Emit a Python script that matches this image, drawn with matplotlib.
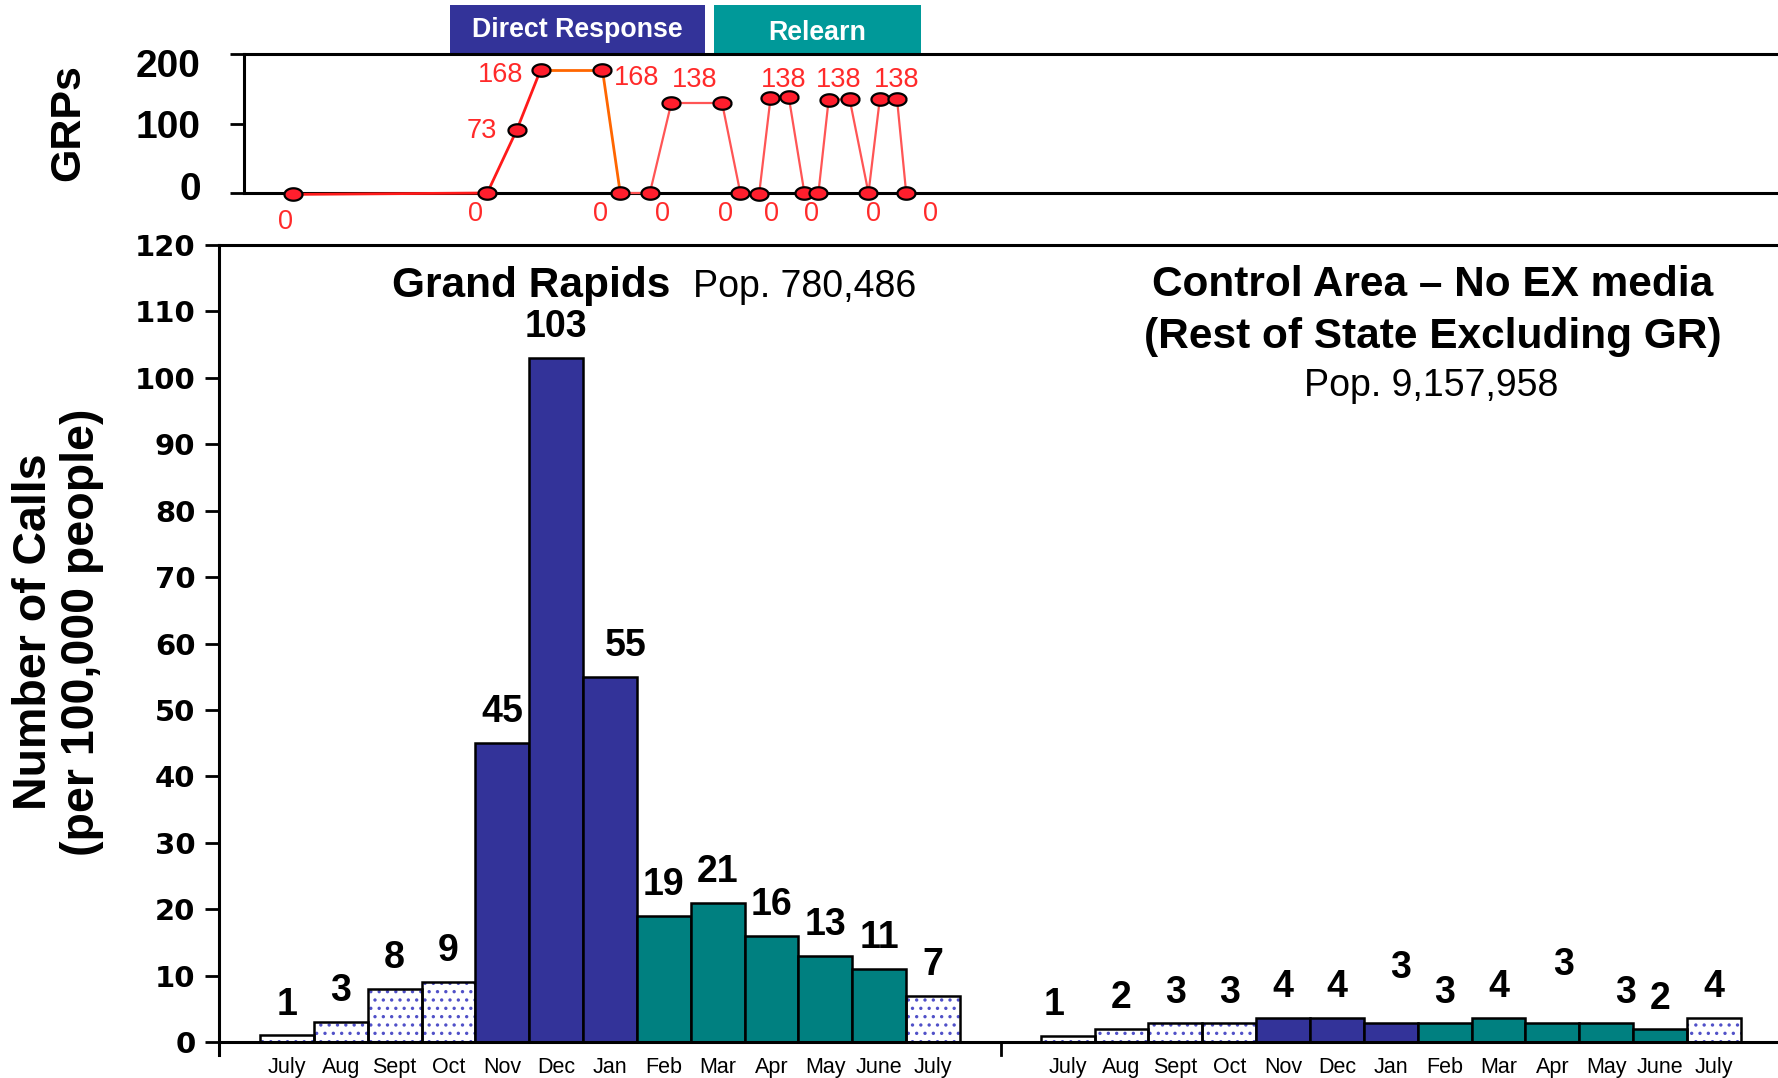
import matplotlib
matplotlib.use('Agg')
import matplotlib.pyplot as plt
import numpy as np
from matplotlib.path import Path
from matplotlib.patches import Rectangle
import matplotlib.transforms as mtransforms

# ---------------- data ----------------
months = ['July', 'Aug', 'Sept', 'Oct', 'Nov', 'Dec', 'Jan', 'Feb', 'Mar', 'Apr', 'May', 'June', 'July']
phase = ['pre', 'pre', 'pre', 'pre', 'dr', 'dr', 'dr', 'rl', 'rl', 'rl', 'rl', 'rl', 'post']
gr_calls = [1, 3, 8, 9, 45, 103, 55, 19, 21, 16, 13, 11, 7]
ctrl_calls = [0.9, 2.0, 2.8, 2.8, 3.6, 3.6, 2.8, 2.8, 3.6, 2.8, 2.8, 1.9, 3.6]

# GRP flight (x in month units of the chart below)
grp_x = [0.12, 3.72, 4.27, 4.71, 5.86, 6.19, 6.74, 7.14, 8.08, 8.42, 8.77,
         8.98, 9.32, 9.61, 9.87, 10.06, 10.45, 10.80, 11.01, 11.33, 11.50]
grp_y = [-2, 0, 91, 177, 177, 0, 0, 130, 130, 0, -1,
         136, 138, 0, 0, 134, 135, 0, 135, 135, 0]
grp_label_text = ['0', '0', '73', '168', '168', '0', '0', '138', '0', '0',
                  '138', '0', '138', '0', '138', '0']
grp_label_x = [-0.02, 3.51, 3.62, 3.96, 6.50, 5.83, 6.97, 7.58, 8.15, 9.00,
               9.22, 9.74, 10.25, 10.89, 11.33, 11.96]
grp_label_y = [-42, -30, 89, 170, 166, -30, -30, 163, -30, -30,
               162, -30, 162, -30, 162, -30]

# ---------------- layout / style ----------------
W, H = 1778, 1078
fig = plt.figure(figsize=(W / 100, H / 100), dpi=100)
SANS = ['Liberation Sans', 'DejaVu Sans']
NARROW = ['Liberation Sans Narrow', 'Liberation Sans', 'DejaVu Sans']
plt.rcParams['font.family'] = SANS
plt.rcParams['hatch.linewidth'] = 1.2

NAVY = '#333399'
TEAL = '#008080'
DOT = '#5050c8'
fill_colors = {'pre': None, 'dr': NAVY, 'rl': TEAL, 'post': None}
GROUP_OFFSETS = [0, 14.5]

# ---------------- main bar axes ----------------
ax = fig.add_axes([219 / W, 1 - 1055.3 / H, 1 - 219 / W, (1055.3 - 245) / H])
ax.set_xlim(-1.261, 27.69)
ax.set_ylim(-2, 120)
for s in ['right', 'bottom']:
    ax.spines[s].set_visible(False)
for s in ['left', 'top']:
    ax.spines[s].set_linewidth(2.2)
ax.axhline(0, color='black', lw=2.2, zorder=5)
ax.set_yticks(range(0, 121, 10))
ax.tick_params(axis='y', length=10, width=2, pad=7, labelsize=21)
for lab in ax.get_yticklabels():
    lab.set_fontfamily(['DejaVu Sans'])
    lab.set_fontweight('heavy')

# per-label nudges (points) for the value labels
left_nudge = {6: (11, 0)}
right_nudge = {0: (-10, 0), 6: (7, 18), 9: (8, 20), 10: (14, 0)}

xt, xl = [], []
for offset, vals, nudge in [(GROUP_OFFSETS[0], gr_calls, left_nudge),
                            (GROUP_OFFSETS[1], ctrl_calls, right_nudge)]:
    xs = np.arange(len(vals)) + offset
    for i, (xi, v, ph) in enumerate(zip(xs, vals, phase)):
        c = fill_colors[ph]
        if c is None:
            ax.bar(xi, v, width=1, color='white', edgecolor=DOT, hatch='..', lw=0, zorder=2)
            ax.bar(xi, v, width=1, fill=False, edgecolor='black', lw=1.8, zorder=3)
        else:
            ax.bar(xi, v, width=1, color=c, edgecolor='black', lw=1.8, zorder=3)
        dx, dy = nudge.get(i, (0, 0))
        ax.annotate(f'{v:.0f}', (xi, v), xytext=(dx, 15 + dy), textcoords='offset points',
                    ha='center', va='baseline', fontsize=27, fontweight='bold')
    xt.extend(xs)
    xl.extend(months)
ax.set_xticks(xt)
ax.set_xticklabels(xl, fontsize=15.5)
ax.tick_params(axis='x', length=0, pad=1)
# divider tick between the two panels
ax.plot([13.26, 13.26], [0, -2], color='black', lw=2, clip_on=False)

# ---------------- GRP axes ----------------
axg = fig.add_axes([244 / W, 1 - 193 / H, 1 - 244 / W, (193 - 54) / H])
axg.set_xlim(-0.797, 27.69)
axg.set_ylim(0, 200)
axg.spines['right'].set_visible(False)
for s in ['top', 'bottom', 'left']:
    axg.spines[s].set_linewidth(2.2)
axg.set_xticks([])
axg.set_yticks([0, 100, 200])
axg.tick_params(axis='y', length=10, width=2, pad=21, labelsize=28)
label_shift_pt = {0: 5, 1: 0, 2: -6.5}
for k, lab in enumerate(axg.get_yticklabels()):
    lab.set_fontfamily(NARROW)
    lab.set_fontweight('bold')
    lab.set_transform(lab.get_transform() + mtransforms.ScaledTranslation(
        0, label_shift_pt[k] / 72, fig.dpi_scale_trans))

seg_colors = ['#FF1A1A'] * 3 + ['#FF6600'] * 2 + ['#FF5555'] * (len(grp_x) - 6)
seg_lw = [2.0] * 5 + [1.6] * (len(grp_x) - 6)
for i in range(len(grp_x) - 1):
    axg.plot(grp_x[i:i + 2], grp_y[i:i + 2], color=seg_colors[i], lw=seg_lw[i],
             zorder=4, clip_on=False, solid_capstyle='butt')

theta = np.linspace(0, 2 * np.pi, 60)
ellipse = Path(np.column_stack([1.45 * np.cos(theta), np.sin(theta)]))
axg.plot(grp_x, grp_y, linestyle='none', marker=ellipse, markersize=13,
         markerfacecolor='#FF1E2D', markeredgecolor='black', markeredgewidth=1.6,
         zorder=6, clip_on=False)
for t, lx, ly in zip(grp_label_text, grp_label_x, grp_label_y):
    axg.text(lx, ly, t, color='#FF2A2A', fontsize=19.5, ha='center', va='center',
             clip_on=False)

trans = mtransforms.blended_transform_factory(axg.transData, axg.transAxes)
axg.add_patch(Rectangle((3.03, 1.0), 7.76 - 3.03, 0.352, transform=trans,
                        facecolor=NAVY, edgecolor='none', clip_on=False))
axg.add_patch(Rectangle((7.93, 1.0), 11.77 - 7.93, 0.352, transform=trans,
                        facecolor='#009999', edgecolor='none', clip_on=False))
axg.text((3.03 + 7.76) / 2, 1.17, 'Direct Response', transform=trans, color='white',
         fontsize=19.3, fontweight='bold', ha='center', va='center')
axg.text((7.93 + 11.77) / 2, 1.15, 'Relearn', transform=trans, color='white',
         fontsize=19.3, fontweight='bold', ha='center', va='center')

# ---------------- figure texts ----------------
fig.text(68 / W, 1 - 123 / H, 'GRPs', rotation=90, ha='center', va='center',
         fontsize=31, fontweight='bold')
fig.text(58 / W, 1 - 632 / H, 'Number of Calls\n(per 100,000 people)', rotation=90,
         ha='center', va='center', fontsize=33.5, fontweight='bold', linespacing=1.12,
         multialignment='center')

fig.text(392 / W, 1 - 297 / H, 'Grand Rapids', fontsize=30.5, fontweight='bold',
         ha='left', va='baseline')
fig.text(693 / W, 1 - 297 / H, 'Pop. 780,486', fontsize=27, ha='left', va='baseline')

fig.text(1433 / W, 1 - 296 / H, 'Control Area \u2013 No EX media', fontsize=30.5,
         fontweight='bold', ha='center', va='baseline')
fig.text(1433 / W, 1 - 348 / H, '(Rest of State Excluding GR)', fontsize=30.5,
         fontweight='bold', ha='center', va='baseline')
fig.text(1431 / W, 1 - 396 / H, 'Pop. 9,157,958', fontsize=27, ha='center',
         va='baseline')

fig.savefig('out.png', dpi=100)
